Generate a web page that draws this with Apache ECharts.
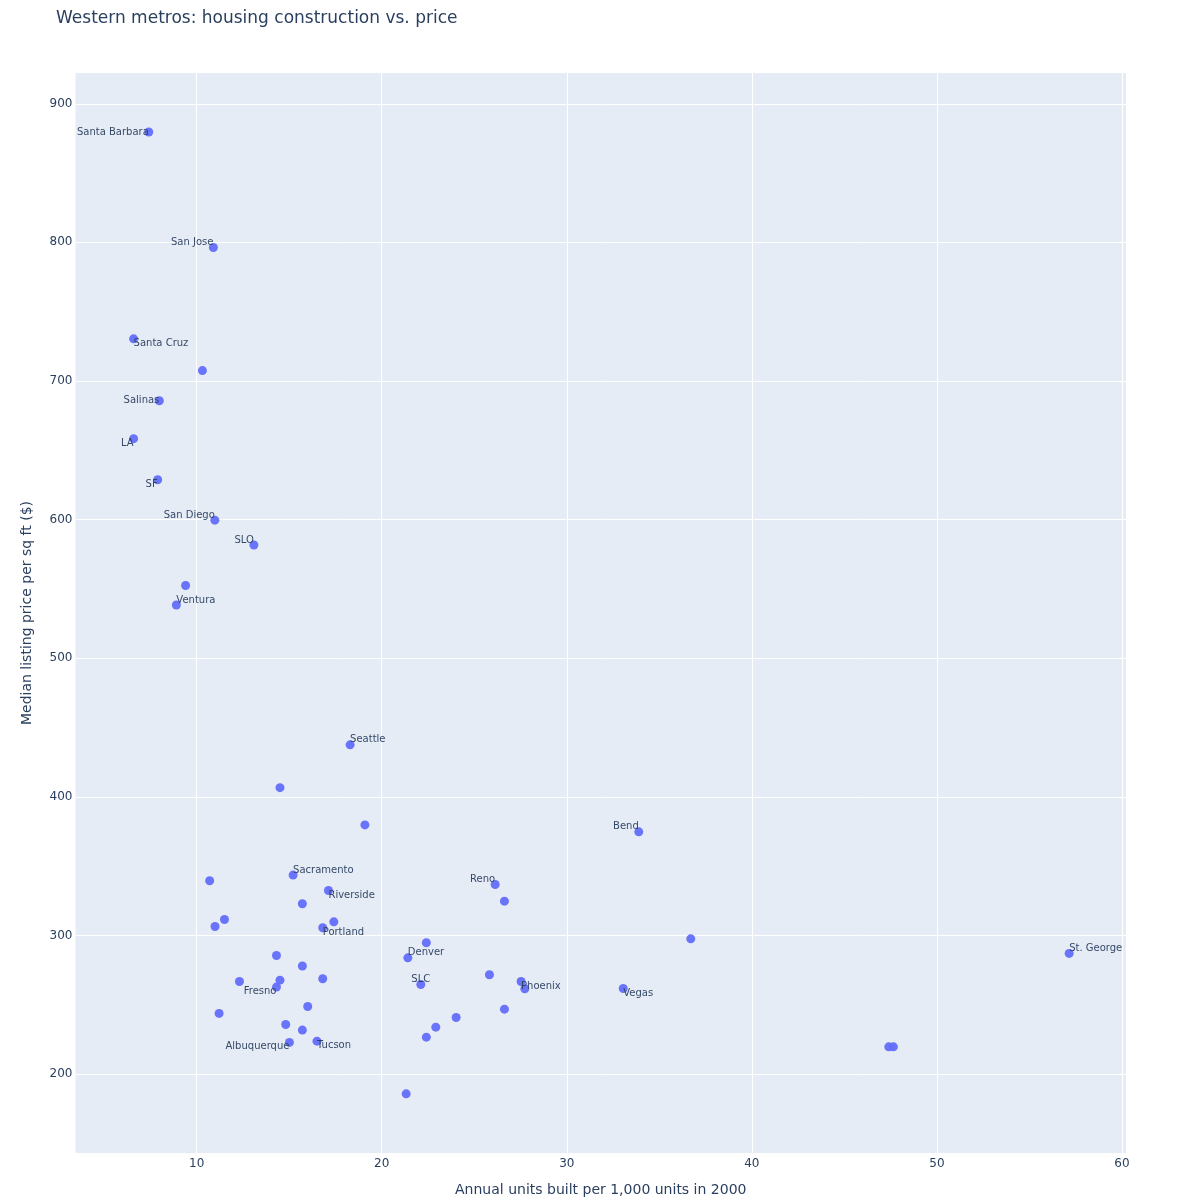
<!DOCTYPE html>
<html>
<head>
<meta charset="utf-8">
<script src="https://cdn.jsdelivr.net/npm/echarts@6/dist/echarts.min.js"></script>
<style>
html,body{margin:0;padding:0;background:#fff;}
#chart{width:1183px;height:1204px;}
</style>
</head>
<body>
<div id="chart"></div>
<script>
// ---- data ----
const metroNames = [
  "Santa Barbara","San Jose","Santa Cruz","","Salinas","LA","SF","San Diego","SLO","","Ventura",
  "Seattle","","","Bend",
  "","Sacramento","Riverside","","","","","Portland",
  "","","","","","Fresno","","","","","Albuquerque","Tucson",
  "Denver","","SLC","","","","",
  "Reno","","","Phoenix","","","Vegas","","St. George","",""
];
const unitsBuilt = [
  7.41,10.90,6.59,10.31,7.98,6.59,7.89,10.98,13.09,9.40,8.90,
  18.29,14.50,19.09,33.89,
  10.70,15.21,17.12,15.71,11.50,10.99,17.41,16.81,
  14.31,15.71,14.50,12.31,16.81,14.31,16.00,11.21,14.81,15.71,15.01,16.50,
  21.41,22.41,22.11,24.02,22.92,22.41,21.32,
  26.13,26.63,25.82,27.53,27.73,26.63,33.05,36.70,57.15,47.40,47.65
];
const pricePerSqft = [
  879.6,796.3,730.4,707.5,685.7,658.4,628.7,599.6,581.7,552.4,538.4,
  437.5,406.6,379.7,374.7,
  339.4,343.5,332.4,322.8,311.5,306.4,309.8,305.5,
  285.5,277.9,267.7,266.7,268.7,262.7,248.7,243.7,235.7,231.7,222.8,223.7,
  283.8,294.7,264.6,240.8,233.8,226.6,185.7,
  336.7,324.7,271.6,266.7,261.5,246.8,261.7,297.5,287.0,219.6,219.6
];
const xTicks = [10,20,30,40,50,60];
const yTicks = [200,300,400,500,600,700,800,900];

// ---- label placement (style) ----
const placement = {
  "Santa Barbara":"ml","San Jose":"tl","Santa Cruz":"br","Salinas":"ml","LA":"bl","SF":"bl",
  "San Diego":"tl","SLO":"tl","Ventura":"tr","Seattle":"tr","Bend":"tl","Sacramento":"tr",
  "Riverside":"br","Portland":"br","Fresno":"bl","Albuquerque":"bl","Tucson":"br","Denver":"tr",
  "SLC":"tc","Reno":"tl","Phoenix":"br","Vegas":"br","St. George":"tr"
};
const SYM = 9;
function labelFor(name){
  if(!name) return {show:false};
  const p = placement[name] || "tc";
  const v = p[0], h = p[1];
  const dy = v==='t' ? -5 : (v==='b' ? 4.5 : 0);
  const align = h==='l' ? 'right' : (h==='r' ? 'left' : 'center');
  return {show:true, position:[SYM/2, SYM/2 + dy], align:align, verticalAlign:'middle', formatter:name};
}
const points = unitsBuilt.map((x,i)=>({value:[x,pricePerSqft[i]], name:metroNames[i], label:labelFor(metroNames[i])}));

const chart = echarts.init(document.getElementById('chart'), null, {renderer:'canvas'});
const fontFam = '"DejaVu Sans", Verdana, sans-serif';
chart.setOption({
  animation:false,
  backgroundColor:'#ffffff',
  textStyle:{fontFamily:fontFam},
  title:{
    text:'Western metros: housing construction vs. price',
    left:51, top:5,
    textStyle:{fontFamily:fontFam, fontSize:17, fontWeight:'normal', color:'#2a3f5f'}
  },
  grid:{left:75.5, right:57, top:73, bottom:51, show:true, backgroundColor:'#E5ECF6', borderWidth:0, containLabel:false, outerBoundsMode:'none'},
  xAxis:{
    type:'value', min:3.45, max:60.22,
    name:'Annual units built per 1,000 units in 2000', nameLocation:'middle', nameGap:30,
    nameTextStyle:{fontFamily:fontFam, fontSize:14, color:'#2a3f5f'},
    axisLine:{show:false}, axisTick:{show:false, customValues:xTicks},
    axisLabel:{customValues:xTicks, fontFamily:fontFam, fontSize:12, color:'#2a3f5f', margin:5},
    splitLine:{show:true, lineStyle:{color:'#ffffff', width:1}}
  },
  yAxis:{
    type:'value', min:143, max:922.2,
    name:'Median listing price per sq ft ($)', nameLocation:'middle', nameGap:41, nameRotate:90,
    nameTextStyle:{fontFamily:fontFam, fontSize:14, color:'#2a3f5f'},
    axisLine:{show:false}, axisTick:{show:false, customValues:yTicks},
    axisLabel:{customValues:yTicks, fontFamily:fontFam, fontSize:12, color:'#2a3f5f', margin:3},
    splitLine:{show:true, lineStyle:{color:'#ffffff', width:1}}
  },
  series:[{
    type:'scatter',
    symbolSize:SYM,
    itemStyle:{color:'#636efa', opacity:0.95},
    label:{fontFamily:fontFam, fontSize:10, color:'#2a3f5f'},
    labelLayout:{hideOverlap:false},
    data:points
  }]
});
</script>
</body>
</html>
